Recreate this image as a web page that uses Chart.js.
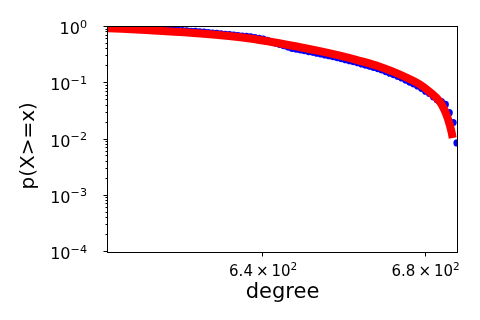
<!DOCTYPE html>
<html>
<head>
    <title>p(X>=x) vs degree</title>
    <script src="https://cdn.jsdelivr.net/npm/chart.js"></script>
    <style>
        body { margin: 0; background: #ffffff; }
    </style>
</head>
<body>
    <canvas id="ccdf" width="480" height="320"></canvas>
    <script>
        // empirical ccdf (blue dots)
        const degree = [604, 605, 606, 607, 608, 609, 610, 611, 612, 613, 614, 615, 616, 617, 618, 619, 620,
            621, 622, 623, 624, 625, 626, 627, 628, 629, 630, 631, 632, 633, 634, 635, 636, 637, 638, 639, 640,
            641, 642, 643, 644, 645, 646, 647, 648, 649, 650, 651, 652, 653, 654, 655, 656, 657, 658, 659, 660,
            661, 662, 663, 664, 665, 666, 667, 668, 669, 670, 671, 672, 673, 674, 675, 676, 677, 678, 679, 680,
            681, 682, 683, 684, 685, 686, 687, 688];
        const pData = [0.955, 0.952, 0.950, 0.947, 0.942, 0.939, 0.936, 0.934, 0.931, 0.928, 0.923, 0.918, 0.910, 0.900, 0.889, 0.881, 0.871,
            0.861, 0.851, 0.841, 0.834, 0.824, 0.811, 0.796, 0.782, 0.769, 0.755, 0.741, 0.729, 0.716, 0.703, 0.692, 0.679, 0.667, 0.647, 0.628, 0.610,
            0.577, 0.547, 0.518, 0.490, 0.464, 0.440, 0.416, 0.404, 0.393, 0.378, 0.366, 0.354, 0.343, 0.331, 0.319, 0.308, 0.296, 0.285, 0.274, 0.263,
            0.252, 0.242, 0.232, 0.221, 0.210, 0.200, 0.191, 0.182, 0.172, 0.161, 0.151, 0.142, 0.133, 0.124, 0.114, 0.105, 0.0973, 0.0897, 0.0813, 0.0721,
            0.0655, 0.0574, 0.0504, 0.0470, 0.0420, 0.0300, 0.0200, 0.0087];

        // fitted curve (red line)
        const fitDegree = [604, 613.6, 625.2, 636.9, 648.9, 653.7, 658.6, 663.5, 668.5, 673.4, 678.5, 681, 683.6, 684.8, 685.6, 686.6, 686.9];
        const pFit = [0.955, 0.871, 0.767, 0.624, 0.437, 0.372, 0.309, 0.251, 0.197, 0.144, 0.0957, 0.0708, 0.0470, 0.0334, 0.0241, 0.0137, 0.0106];

        // tick labels: mantissa × 10^exp
        const xTicks = [640, 680];
        const xTickMantissa = ['6.4', '6.8'];
        const xTickExp = ['2', '2'];
        const yTicks = [1e-4, 1e-3, 1e-2, 1e-1, 1];
        const yTickExp = ['−4', '−3', '−2', '−1', '0'];

        const font = 'DejaVu Sans';

        // draws a row of text pieces, piece = [text, size, raise]
        function drawPieces(ctx, pieces, x, baseline, align) {
            ctx.textBaseline = 'alphabetic';
            ctx.textAlign = 'left';
            const widths = pieces.map(p => {
                if (p[0] === ' ') return p[1];
                ctx.font = p[1] + 'px "' + font + '"';
                return ctx.measureText(p[0]).width;
            });
            const total = widths.reduce((a, b) => a + b, 0);
            let cx = align === 'right' ? x - total : x - total / 2;
            pieces.forEach((p, i) => {
                if (p[0] !== ' ') {
                    ctx.font = p[1] + 'px "' + font + '"';
                    ctx.fillText(p[0], cx, baseline - (p[2] || 0));
                }
                cx += widths[i];
            });
        }

        // matplotlib style box, tick marks and tick labels
        const frame = {
            id: 'frame',
            afterDraw(chart) {
                const { ctx, chartArea: a, scales: { x, y } } = chart;
                ctx.save();
                ctx.strokeStyle = '#000000';
                ctx.lineWidth = 1;
                ctx.strokeRect(a.left - 0.5, a.top - 0.5, a.right - a.left + 1, a.bottom - a.top + 1);
                ctx.beginPath();
                yTicks.forEach(v => {
                    const py = Math.round(y.getPixelForValue(v)) - 0.5;
                    ctx.moveTo(a.left - 0.5, py);
                    ctx.lineTo(a.left - 4.5, py);
                });
                for (let e = -4; e < 0; e++) {
                    for (let k = 2; k <= 9; k++) {
                        const py = Math.round(y.getPixelForValue(k * Math.pow(10, e))) - 0.5;
                        ctx.moveTo(a.left - 0.5, py);
                        ctx.lineTo(a.left - 2.5, py);
                    }
                }
                xTicks.forEach(v => {
                    const px = Math.round(x.getPixelForValue(v)) - 0.5;
                    ctx.moveTo(px, a.bottom + 0.5);
                    ctx.lineTo(px, a.bottom + 4.5);
                });
                ctx.stroke();

                ctx.fillStyle = '#000000';
                yTicks.forEach((v, i) => {
                    const py = y.getPixelForValue(v);
                    drawPieces(ctx, [['10', 16, 0], [yTickExp[i], 11.2, 6.4]], a.left - 21, py + 7, 'right');
                });
                xTicks.forEach((v, i) => {
                    const px = x.getPixelForValue(v);
                    drawPieces(ctx, [[xTickMantissa[i], 15, 0], [' ', 3], ['×', 15, 0], [' ', 3],
                        ['10', 15, 0], [xTickExp[i], 10.5, 6.5]], px, a.bottom + 24, 'center');
                });
                ctx.restore();
            }
        };

        const ctx = document.getElementById('ccdf').getContext('2d');
        new Chart(ctx, {
            type: 'scatter',
            data: {
                datasets: [{
                    label: 'fit',
                    data: fitDegree.map((d, i) => ({ x: d, y: pFit[i] })),
                    showLine: true,
                    borderColor: '#ff0000',
                    borderWidth: 8,
                    borderCapStyle: 'butt',
                    cubicInterpolationMode: 'monotone',
                    pointRadius: 0,
                    clip: 0,
                    order: 1
                }, {
                    label: 'data',
                    data: degree.map((d, i) => ({ x: d, y: pData[i] })),
                    backgroundColor: '#0000ff',
                    borderColor: '#0000ff',
                    borderWidth: 0,
                    pointRadius: 3.6,
                    clip: 0,
                    order: 2
                }]
            },
            options: {
                responsive: false,
                animation: false,
                layout: { padding: { top: 27, right: 23, left: 0, bottom: 0 } },
                plugins: { legend: { display: false }, tooltip: { enabled: false } },
                scales: {
                    x: {
                        type: 'logarithmic',
                        bounds: 'data',
                        min: 604,
                        max: 688,
                        afterBuildTicks: s => { s.ticks = xTicks.map(v => ({ value: v })); },
                        afterFit: s => { s.height = 68; },
                        grid: { display: false },
                        border: { display: false },
                        ticks: { display: false },
                        title: {
                            display: true,
                            text: 'degree',
                            color: '#000000',
                            font: { family: font, size: 21, lineHeight: 1 },
                            padding: { top: 0, bottom: 17 }
                        }
                    },
                    y: {
                        type: 'logarithmic',
                        bounds: 'data',
                        min: 1e-4,
                        max: 1,
                        afterBuildTicks: s => { s.ticks = yTicks.map(v => ({ value: v })); },
                        afterFit: s => { s.width = 108; },
                        grid: { display: false },
                        border: { display: false },
                        ticks: { display: false },
                        title: {
                            display: true,
                            text: 'p(X>=x)  ',
                            color: '#000000',
                            font: { family: font, size: 20, lineHeight: 1 },
                            padding: { top: 19, bottom: 0 }
                        }
                    }
                }
            },
            plugins: [frame]
        });
    </script>
</body>
</html>
